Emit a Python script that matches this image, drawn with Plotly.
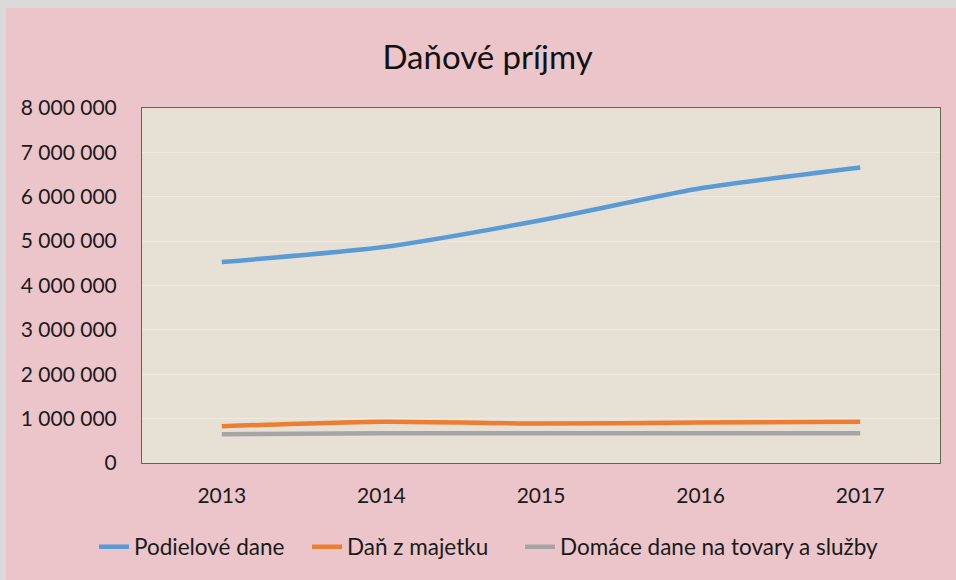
import plotly.graph_objects as go

years = ["2013", "2014", "2015", "2016", "2017"]
podielove_dane = [4530000, 4860000, 5470000, 6190000, 6660000]
dan_z_majetku = [830000, 930000, 890000, 910000, 930000]
domace_dane = [650000, 670000, 670000, 670000, 670000]

series = [
    ("Podielové dane", podielove_dane, "#5B9BD5", 168),
    ("Daň z majetku", dan_z_majetku, "#ED7D31", 168),
    ("Domáce dane na tovary a služby", domace_dane, "#A5A5A5", 330),
]

W, H = 956, 580
L, R, T, B = 142, 16, 108, 117

fig = go.Figure()
for name, vals, col, lw in series:
    fig.add_trace(go.Scatter(
        x=years, y=vals, name=name, mode="lines", legendwidth=lw,
        line=dict(color=col, width=4.5, shape="spline", smoothing=0.6),
    ))

pw = W - L - R
ph = H - T - B
def px_x(p):
    return (p - L) / pw
def px_y(p):
    return (H - B - p) / ph

border = dict(color="#DADADA", width=1)
fig.update_layout(
    width=W, height=H,
    margin=dict(l=L, r=R, t=T, b=B, autoexpand=False),
    paper_bgcolor="#EBC5CA",
    plot_bgcolor="#E7E0D5",
    font=dict(family="Lato", size=21, color="#1a1a1a"),
    separators=", ",
    title=dict(text="Daňové príjmy", x=0.51, xanchor="center", y=1 - 57 / H,
               yanchor="middle", font=dict(family="Lato", size=33, color="#111")),
    showlegend=True,
    legend=dict(orientation="h", x=px_x(94), xanchor="left", y=px_y(547), yref="paper",
                yanchor="middle", font=dict(size=22.5), bgcolor="rgba(0,0,0,0)",
                itemwidth=30, tracegroupgap=0, entrywidthmode="pixels"),
    xaxis=dict(type="category", range=[-0.5, 4.5], showgrid=False, zeroline=False,
               showline=True, linecolor="#5E6B45", linewidth=1, mirror=True,
               ticks="", ticklabelstandoff=14),
    yaxis=dict(range=[0, 8000000], dtick=1000000, tickformat=",d",
               showgrid=True, gridcolor="#EEE9E1", gridwidth=1, zeroline=False,
               showline=True, linecolor="#5E6B45", linewidth=1, mirror=True,
               ticks="", ticklabelstandoff=20),
    shapes=[
        # light grey frame strips along the top and left edges
        dict(type="rect", xref="paper", yref="paper",
             x0=px_x(0), x1=px_x(W + 20), y0=px_y(8), y1=px_y(-5),
             line=dict(width=0), fillcolor="#DADADA", layer="above"),
        dict(type="rect", xref="paper", yref="paper",
             x0=px_x(-5), x1=px_x(6), y0=px_y(H + 20), y1=px_y(-5),
             line=dict(width=0), fillcolor="#DADADA", layer="above"),
    ],
)

fig.write_html(
    "out.html",
    config={"displayModeBar": False},
    post_script=("document.body.style.margin='0';document.body.style.padding='0';"
                 "document.body.style.overflow='hidden';"
                 "document.documentElement.style.overflow='hidden';"),
)
